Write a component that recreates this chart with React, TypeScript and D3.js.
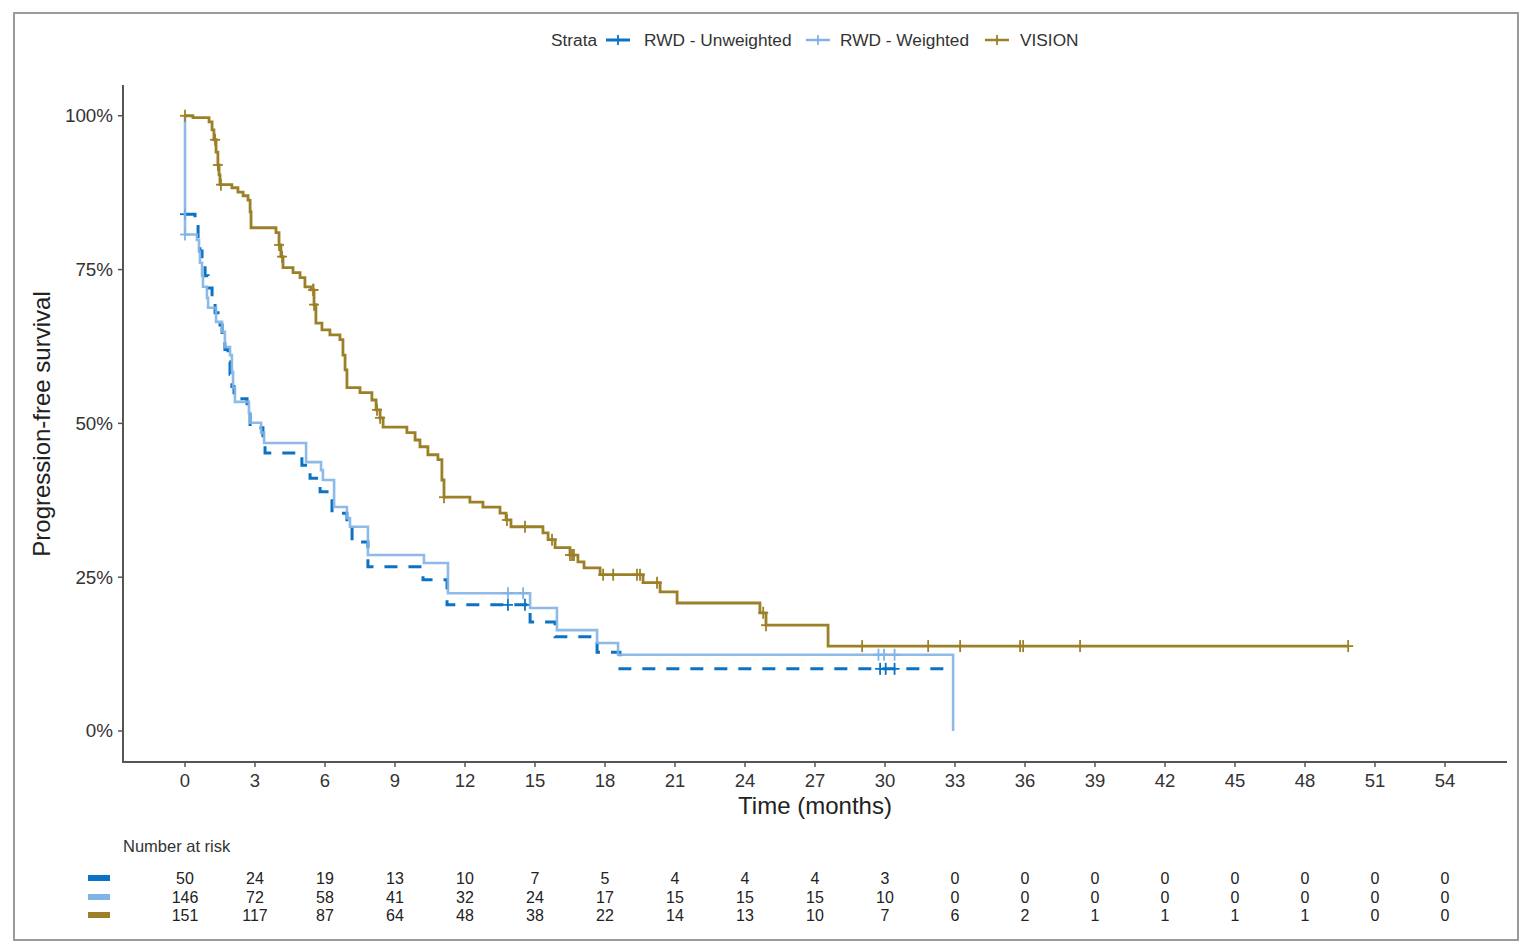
import React from 'react';
import * as d3 from 'd3';

// time axis (months) and survival axis (%)
const timeTicks = [0, 3, 6, 9, 12, 15, 18, 21, 24, 27, 30, 33, 36, 39, 42, 45, 48, 51, 54];
const pctTicks = [0, 25, 50, 75, 100];

const strata = ['RWD - Unweighted', 'RWD - Weighted', 'VISION'];
const colors = ['#0b72c4', '#82b3e6', '#9c8027'];

// [months, survival %]
const unweightedSteps: [number, number][] = [
  [0, 84], [0.43, 82], [0.56, 80], [0.64, 78], [0.73, 76], [0.86, 74], [0.99, 72],
  [1.16, 70], [1.29, 68], [1.5, 66], [1.59, 64], [1.71, 62], [1.84, 60], [1.93, 58],
  [2.01, 56], [2.1, 54], [2.66, 51.8], [2.79, 49.3], [3.34, 46.5], [3.43, 45.2],
  [5.01, 43.2], [5.36, 41.1], [5.79, 38.9], [6.3, 35.4], [6.94, 33.5], [7.16, 30.7],
  [7.84, 26.7], [10.2, 24.6], [11.23, 20.5], [14.79, 17.7], [15.86, 15.3],
  [17.66, 12.8], [18.64, 10.1],
];
const unweightedEnd = 32.83;
const unweightedCensor = [0, 13.84, 14.57, 29.79, 30.03, 30.41];

const weightedSteps: [number, number][] = [
  [0, 100], [0, 80.7], [0.51, 79.8], [0.6, 77.9], [0.64, 76.1], [0.73, 74.0], [0.77, 72.2],
  [0.94, 70.4], [0.99, 68.8], [1.33, 66.5], [1.59, 64.9], [1.71, 62.4], [1.93, 61.1],
  [2.01, 58.4], [2.06, 55.8], [2.14, 53.5], [2.74, 51.7], [2.79, 50.1], [3.26, 48.5],
  [3.39, 46.8], [5.19, 43.7], [5.83, 42.4], [5.91, 40.8], [6.39, 36.4], [6.94, 34.6],
  [7.07, 33.2], [7.84, 28.6], [10.24, 27.3], [11.27, 22.4], [14.79, 20.0], [15.94, 16.4],
  [17.66, 14.3], [18.56, 12.4], [32.92, 0],
];
const weightedEnd = 32.92;
const weightedCensor = [0, 13.84, 14.49, 29.72, 29.96, 30.41];

const visionSteps: [number, number][] = [
  [0, 100], [0.34, 99.7], [1.03, 99.0], [1.16, 97.7], [1.24, 96.1], [1.33, 94.1],
  [1.41, 92.0], [1.46, 90.4], [1.5, 88.8], [2.01, 88.3], [2.27, 87.6], [2.49, 87.0],
  [2.7, 86.3], [2.79, 84.4], [2.83, 81.8], [3.9, 81.0], [4.03, 79.0], [4.11, 77.1],
  [4.2, 75.3], [4.63, 74.5], [4.93, 73.7], [5.14, 72.2], [5.4, 71.7], [5.53, 69.3],
  [5.61, 66.3], [5.87, 65.2], [6.21, 64.4], [6.64, 63.6], [6.77, 61.1], [6.86, 58.7],
  [6.94, 55.8], [7.5, 55.0], [8.01, 53.8], [8.19, 52.2], [8.36, 50.9], [8.49, 49.4],
  [9.51, 48.5], [9.86, 47.3], [10.07, 46.2], [10.41, 44.9], [10.84, 44.1], [11.01, 40.8],
  [11.1, 38.0], [12.21, 37.2], [12.77, 36.4], [13.5, 35.4], [13.76, 34.3], [13.97, 33.2],
  [15.34, 32.2], [15.56, 31.1], [15.86, 29.8], [16.5, 28.6], [16.84, 27.5], [17.1, 26.5],
  [17.79, 25.4], [19.63, 24.1], [20.36, 22.6], [21.09, 20.8], [24.64, 19.2], [24.9, 17.2],
  [27.56, 13.8],
];
const visionEnd = 49.85;
const visionCensor = [
  0, 1.29, 1.41, 1.54, 4.03, 4.16, 5.49, 5.51, 5.53, 8.23, 8.36, 11.1, 13.8, 14.57,
  15.73, 16.5, 16.59, 16.67, 17.92, 18.35, 19.37, 19.5, 20.23, 24.78, 24.9, 29.02,
  31.85, 33.22, 35.79, 35.92, 38.36, 49.85,
];

// number at risk, one value per time tick
const riskUnweighted = [50, 24, 19, 13, 10, 7, 5, 4, 4, 4, 3, 0, 0, 0, 0, 0, 0, 0, 0];
const riskWeighted = [146, 72, 58, 41, 32, 24, 17, 15, 15, 15, 10, 0, 0, 0, 0, 0, 0, 0, 0];
const riskVision = [151, 117, 87, 64, 48, 38, 22, 14, 13, 10, 7, 6, 2, 1, 1, 1, 1, 0, 0];

const FONT = "'Liberation Sans', Arial, sans-serif";

const survAt = (steps: [number, number][], t: number) => {
  let s = steps[0][1];
  for (const [ti, si] of steps) if (ti <= t) s = si;
  return s;
};

const App = () => {
  const x = d3.scaleLinear().domain([-2.657, 56.657]).range([123, 1507]);
  const y = d3.scaleLinear().domain([-5.04, 105]).range([762, 85]);

  const line = d3.line<[number, number]>()
    .x(d => x(d[0]))
    .y(d => y(d[1]))
    .curve(d3.curveStepAfter);

  const curves = [
    { steps: unweightedSteps, end: unweightedEnd, censor: unweightedCensor, dash: '13,11', width: 3 },
    { steps: weightedSteps, end: weightedEnd, censor: weightedCensor, dash: undefined, width: 2.6 },
    { steps: visionSteps, end: visionEnd, censor: visionCensor, dash: undefined, width: 2.8 },
  ];
  const risk = [riskUnweighted, riskWeighted, riskVision];
  const riskY = [878, 897, 915];

  const legendItems = [
    { glyph: 606, label: 644 },
    { glyph: 806, label: 840 },
    { glyph: 985, label: 1020 },
  ];

  return (
    <svg width={1530} height={952} style={{ position: 'absolute', left: 0, top: 0, display: 'block' }}
      fontFamily={FONT}>
      <rect x={0} y={0} width={1530} height={952} fill='#fff' />
      <rect x={14} y={13} width={1504} height={927} fill='none' stroke='#9a9a9a' strokeWidth={2} />

      {/* legend */}
      <text x={551} y={46} fontSize={17.3} fill='#333'>Strata</text>
      {legendItems.map((it, i) => (
        <g key={i}>
          <line x1={it.glyph} x2={it.glyph + 24} y1={40} y2={40} stroke={colors[i]}
            strokeWidth={i === 0 ? 3 : 2.5} />
          <line x1={it.glyph + 12} x2={it.glyph + 12} y1={35} y2={45} stroke={colors[i]} strokeWidth={1.8} />
          <text x={it.label} y={46} fontSize={17.3} fill='#333'>{strata[i]}</text>
        </g>
      ))}

      {/* axes */}
      <line x1={123} x2={123} y1={85} y2={763} stroke='#555' strokeWidth={2} />
      <line x1={122} x2={1507} y1={762} y2={762} stroke='#555' strokeWidth={2} />
      {pctTicks.map(p => (
        <g key={p}>
          <line x1={118} x2={123} y1={y(p)} y2={y(p)} stroke='#555' strokeWidth={1.5} />
          <text x={113} y={y(p) + 6.5} textAnchor='end' fontSize={18.8} fill='#333'>{p}%</text>
        </g>
      ))}
      {timeTicks.map(t => (
        <g key={t}>
          <line x1={x(t)} x2={x(t)} y1={762} y2={767} stroke='#555' strokeWidth={1.5} />
          <text x={x(t)} y={787} textAnchor='middle' fontSize={18.5} fill='#333'>{t}</text>
        </g>
      ))}
      <text x={815} y={814} textAnchor='middle' fontSize={24} fill='#222'>Time (months)</text>
      <text transform='translate(50,424) rotate(-90)' textAnchor='middle' fontSize={24} fill='#222'>
        Progression-free survival
      </text>

      {/* survival curves */}
      {curves.map((c, i) => {
        const last = c.steps[c.steps.length - 1];
        const pts: [number, number][] = [...c.steps, [c.end, last[1]]];
        return (
          <g key={i}>
            <path d={line(pts) || ''} fill='none' stroke={colors[i]} strokeWidth={c.width}
              strokeDasharray={c.dash} opacity={i === 1 ? 0.9 : 1} />
            {c.censor.map((t, j) => {
              const cx = x(t);
              const cy = y(survAt(c.steps, t));
              return (
                <g key={j} stroke={colors[i]} strokeWidth={1.8}>
                  <line x1={cx - 5} x2={cx + 5} y1={cy} y2={cy} />
                  <line x1={cx} x2={cx} y1={cy - 6} y2={cy + 6} />
                </g>
              );
            })}
          </g>
        );
      })}

      {/* number at risk table */}
      <text x={123} y={852} fontSize={16.5} fill='#333'>Number at risk</text>
      {risk.map((row, i) => (
        <g key={i}>
          <rect x={88} y={riskY[i] - 3} width={22} height={6} fill={colors[i]} />
          {row.map((n, j) => (
            <text key={j} x={x(timeTicks[j])} y={riskY[i] + 5.5} textAnchor='middle' fontSize={16} fill='#222'>
              {n}
            </text>
          ))}
        </g>
      ))}
    </svg>
  );
};

export default App;
